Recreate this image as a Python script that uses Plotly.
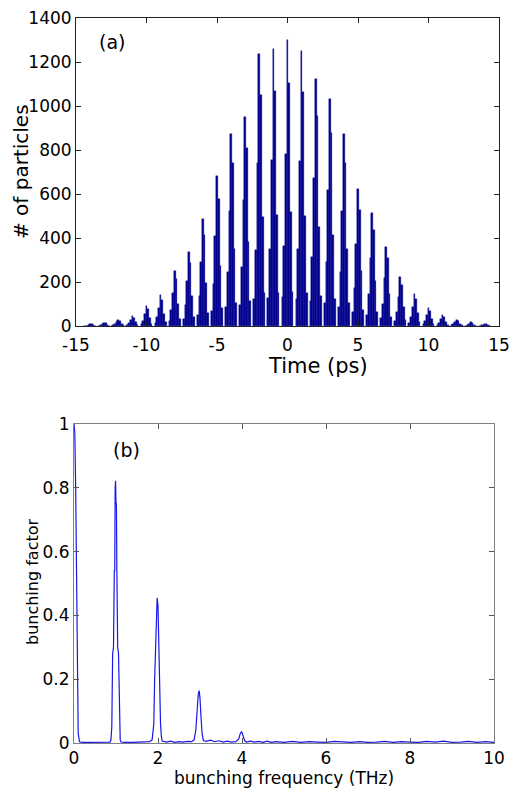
import plotly.graph_objects as go

# ---------------- Panel (a): micro-bunched particle histogram ----------------
bunch_centers = list(range(-14, 15))
bin_offsets = [-0.36, -0.24, -0.12, 0.0, 0.12, 0.24, 0.36]
bunch_bins = [
    [1, 2, 5, 8, 7, 3, 1],
    [2, 4, 9, 15, 13, 6, 2],
    [3, 8, 16, 27, 23, 11, 3],
    [5, 13, 27, 45, 38, 18, 5],
    [9, 25, 55, 91, 77, 36, 11],
    [14, 39, 83, 139, 118, 56, 17],
    [25, 71, 151, 252, 214, 101, 30],
    [34, 95, 203, 338, 287, 135, 41],
    [49, 136, 292, 486, 413, 194, 58],
    [68, 190, 408, 680, 578, 272, 82],
    [87, 244, 524, 873, 742, 349, 105],
    [95, 266, 571, 951, 808, 380, 114],
    [124, 346, 742, 1236, 1051, 494, 148],
    [126, 352, 755, 1258, 1069, 503, 151],
    [130, 364, 780, 1300, 1105, 520, 156],
    [125, 351, 751, 1252, 1064, 501, 150],
    [112, 314, 674, 1123, 955, 449, 135],
    [103, 289, 619, 1032, 877, 413, 124],
    [87, 244, 524, 873, 742, 349, 105],
    [62, 174, 373, 622, 529, 249, 75],
    [52, 144, 309, 515, 438, 206, 62],
    [36, 101, 217, 361, 307, 144, 43],
    [22, 62, 133, 221, 188, 88, 27],
    [15, 41, 87, 145, 123, 58, 17],
    [8, 23, 49, 82, 70, 33, 10],
    [5, 14, 30, 50, 43, 20, 6],
    [3, 8, 16, 27, 23, 11, 3],
    [2, 4, 10, 16, 14, 6, 2],
    [1, 3, 6, 10, 9, 4, 1],
]
time_ticks = [-15, -10, -5, 0, 5, 10, 15]
time_ticktext = ["-15", "-10", "-5", "0", "5", "10", "15"]
count_ticks = [0, 200, 400, 600, 800, 1000, 1200, 1400]

# ---------------- Panel (b): bunching factor spectrum ----------------
freq = [0, 0.02, 0.04, 0.06, 0.08, 0.1, 0.13, 0.2, 0.3, 0.4, 0.5, 0.6, 0.7, 0.8,
        0.86, 0.88, 0.9, 0.92, 0.94, 0.96, 0.97, 0.98, 0.99, 1.0, 1.01, 1.02,
        1.04, 1.06, 1.08, 1.1, 1.12, 1.2, 1.4, 1.6, 1.7, 1.8, 1.86, 1.9, 1.92,
        1.94, 1.96, 1.98, 2.0, 2.02, 2.04, 2.06, 2.08, 2.1, 2.2, 2.3, 2.4, 2.5,
        2.6, 2.7, 2.8, 2.86, 2.9, 2.93, 2.96, 2.98, 3.0, 3.02, 3.05, 3.08, 3.15,
        3.25, 3.35, 3.45, 3.55, 3.65, 3.75, 3.85, 3.92, 3.96, 3.99, 4.02, 4.06,
        4.1, 4.2, 4.3, 4.4, 4.5, 4.6, 4.7, 4.8, 5.0, 5.2, 5.4, 5.6, 5.8, 6.0,
        6.2, 6.4, 6.6, 6.8, 7.0, 7.2, 7.4, 7.6, 7.8, 8.0, 8.2, 8.4, 8.6, 8.8,
        9.0, 9.2, 9.4, 9.6, 9.8, 10.0]
bunching = [1.0, 0.97, 0.8, 0.45, 0.12, 0.03, 0.004, 0.002, 0.002, 0.002, 0.002,
            0.002, 0.002, 0.002, 0.003, 0.01, 0.05, 0.28, 0.30, 0.54, 0.54, 0.80,
            0.822, 0.75, 0.75, 0.55, 0.30, 0.28, 0.05, 0.01, 0.003, 0.002, 0.002,
            0.003, 0.002, 0.004, 0.01, 0.06, 0.2, 0.28, 0.40, 0.455, 0.43, 0.30,
            0.15, 0.06, 0.02, 0.006, 0.003, 0.006, 0.002, 0.004, 0.003, 0.005,
            0.004, 0.01, 0.04, 0.10, 0.155, 0.164, 0.14, 0.09, 0.03, 0.008, 0.005,
            0.009, 0.004, 0.007, 0.003, 0.006, 0.003, 0.004, 0.012, 0.03, 0.036,
            0.025, 0.008, 0.003, 0.006, 0.003, 0.005, 0.002, 0.006, 0.002, 0.004,
            0.002, 0.005, 0.002, 0.004, 0.003, 0.002, 0.005, 0.003, 0.002, 0.004,
            0.002, 0.003, 0.005, 0.002, 0.004, 0.003, 0.002, 0.005, 0.003, 0.006,
            0.002, 0.003, 0.005, 0.002, 0.004, 0.002]
freq_ticks = [0, 2, 4, 6, 8, 10]
bf_ticks = [0, 0.2, 0.4, 0.6, 0.8, 1]
bf_ticktext = ["0", "0.2", "0.4", "0.6", "0.8", "1"]

# build bar positions from the lists
bar_x, bar_y = [], []
for c, bins in zip(bunch_centers, bunch_bins):
    for off, h in zip(bin_offsets, bins):
        bar_x.append(c + off)
        bar_y.append(h)

W, H = 511, 789
FONT = "DejaVu Sans"

fig = go.Figure()
fig.add_trace(go.Bar(x=bar_x, y=bar_y, width=0.12,
                     marker=dict(color="#00008E", line=dict(width=0.4, color="#00008E")),
                     xaxis="x", yaxis="y", showlegend=False))
fig.add_trace(go.Scatter(x=freq, y=bunching, mode="lines", line=dict(color="#1818E8", width=1.2),
                         xaxis="x2", yaxis="y2", showlegend=False))

def px_x(p):
    return p / W

def px_y(p):
    return 1 - p / H

axis_common = dict(showgrid=False, zeroline=False, ticks="inside", ticklen=5,
                   showline=True, mirror="ticks", automargin=False,
                   tickfont=dict(family=FONT, size=17, color="black"))

fig.update_layout(
    template="none",
    width=W, height=H,
    margin=dict(l=0, r=0, t=0, b=0, pad=0, autoexpand=False),
    paper_bgcolor="white", plot_bgcolor="white",
    bargap=0,
    xaxis=dict(domain=[px_x(76), px_x(499)], range=[-15, 15], anchor="y",
               tickvals=time_ticks, ticktext=time_ticktext, ticklabelstandoff=4,
               linecolor="#222222", tickcolor="#222222", **axis_common),
    yaxis=dict(domain=[px_y(326), px_y(18)], range=[0, 1400], anchor="x",
               tickvals=count_ticks, linecolor="#222222", tickcolor="#222222",
               **axis_common),
    xaxis2=dict(domain=[px_x(74), px_x(494)], range=[0, 10], anchor="y2",
                tickvals=freq_ticks, linecolor="#808080", tickcolor="#555555",
                **axis_common),
    yaxis2=dict(domain=[px_y(743), px_y(424)], range=[0, 1], anchor="x2",
                tickvals=bf_ticks, ticktext=bf_ticktext,
                linecolor="#808080", tickcolor="#555555", **axis_common),
)

ann = [
    dict(text="# of particles", x=px_x(21), y=px_y(172), textangle=-90, size=20),
    dict(text="Time (ps)", x=px_x(318), y=px_y(366), textangle=0, size=21),
    dict(text="(a)", x=px_x(112), y=px_y(42), textangle=0, size=19),
    dict(text="bunching factor", x=px_x(32), y=px_y(582), textangle=-90, size=16),
    dict(text="bunching frequency (THz)", x=px_x(284), y=px_y(778), textangle=0, size=17),
    dict(text="(b)", x=px_x(126), y=px_y(450), textangle=0, size=19),
]
for a in ann:
    fig.add_annotation(text=a["text"], x=a["x"], y=a["y"], xref="paper", yref="paper",
                       xanchor="center", yanchor="middle", showarrow=False,
                       textangle=a["textangle"],
                       font=dict(family=FONT, size=a["size"], color="black"))

fig.write_html("out.html",
               config={"displayModeBar": False},
               post_script="document.body.style.margin='0';"
                           "document.documentElement.style.overflow='hidden';")
